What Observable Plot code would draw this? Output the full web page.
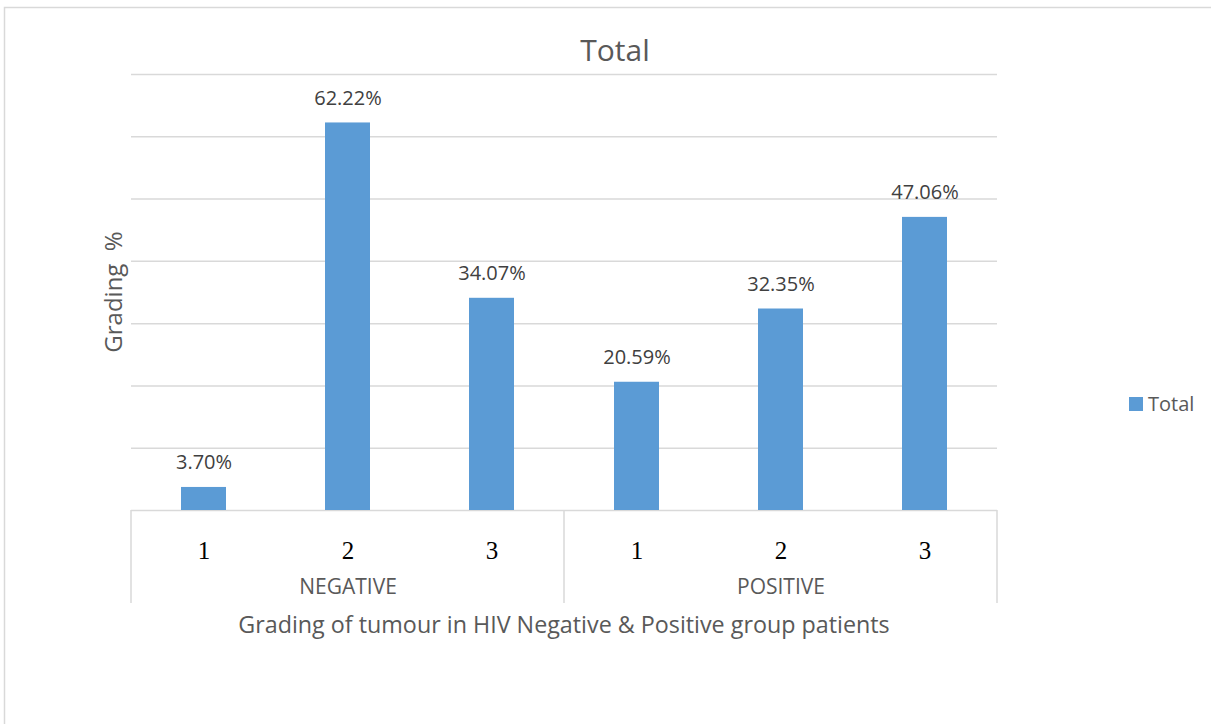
<!DOCTYPE html>
<html>
<head>
<meta charset="utf-8">
<script src="https://cdn.jsdelivr.net/npm/d3@7"></script>
<script src="https://cdn.jsdelivr.net/npm/@observablehq/plot@0.6"></script>
<style>
  html, body { margin: 0; padding: 0; background: #fff; }
  #chart svg { display: block; }
</style>
</head>
<body>
<div id="chart"></div>
<script>
const groups = ["NEGATIVE", "POSITIVE"];
const grades = ["1", "2", "3"];
const negativeValues = [3.70, 62.22, 34.07];
const positiveValues = [20.59, 32.35, 47.06];
const yTicks = [0, 10, 20, 30, 40, 50, 60, 70];
const chartTitle = "Total";
const xTitle = "Grading of tumour in HIV Negative & Positive group patients";
const yTitle = "Grading\u00A0\u00A0%";
const seriesName = "Total";

const barColor = "#5b9bd5";
const gridColor = "#d9d9d9";
const font = "'Open Sans', sans-serif";

const data = [];
groups.forEach((g, gi) => {
  const vals = gi === 0 ? negativeValues : positiveValues;
  grades.forEach((gr, i) => data.push({group: g, grade: gr, value: vals[i]}));
});

const W = 1211, H = 724;
const plot = Plot.plot({
  width: W,
  height: H,
  marginLeft: 131,
  marginRight: 214,
  marginTop: 74,
  marginBottom: 214,
  style: {fontFamily: font, background: "transparent", overflow: "visible"},
  fx: {domain: groups, padding: 0, axis: null, label: null},
  x: {domain: grades, type: "band", paddingInner: 0.69, paddingOuter: 0.345, axis: null, label: null},
  y: {domain: [0, 70], axis: null, label: null},
  marks: [
    Plot.gridY(yTicks.slice(1), {stroke: gridColor, strokeOpacity: 1, strokeWidth: 1.5}),
    Plot.ruleY([0], {stroke: gridColor, strokeWidth: 1.5}),
    Plot.barY(data, {fx: "group", x: "grade", y: "value", fill: barColor}),
    Plot.text(data, {
      fx: "group", x: "grade", y: "value",
      text: d => d.value.toFixed(2) + "%",
      lineAnchor: "bottom", dy: -18,
      fontSize: 20, fill: "#404040", fontFamily: font
    }),
    Plot.text(data, {
      fx: "group", x: "grade", frameAnchor: "bottom",
      text: "grade", dy: 40, lineAnchor: "middle",
      fontSize: 25, fill: "#000", fontFamily: "'Liberation Serif', 'Times New Roman', serif"
    }),
    Plot.text(groups, {
      fx: d => d, frameAnchor: "bottom", text: d => d,
      dy: 77, lineAnchor: "middle",
      fontSize: 21, fill: "#595959", fontFamily: font
    })
  ]
});

document.getElementById("chart").appendChild(plot);

// Decorations computed from the plot's own scales
const svg = d3.select(plot);
const fx = plot.scale("fx");
const y = plot.scale("y");
const y0 = y.apply(0);
const fxBand = fx.bandwidth;
const bounds = groups.map(g => fx.apply(g)).concat([fx.apply(groups[groups.length - 1]) + fxBand]);

svg.append("rect")
  .attr("x", 4.5).attr("y", 7.5).attr("width", W + 20).attr("height", H + 20)
  .attr("fill", "none").attr("stroke", gridColor).attr("stroke-width", 1.5);

svg.selectAll("line.sep").data(bounds).join("line")
  .attr("class", "sep")
  .attr("x1", d => d).attr("x2", d => d)
  .attr("y1", y0).attr("y2", y0 + 93)
  .attr("stroke", gridColor).attr("stroke-width", 1.5);

const plotLeft = bounds[0], plotRight = bounds[bounds.length - 1];

svg.append("text")
  .attr("x", 615).attr("y", 61)
  .attr("text-anchor", "middle")
  .attr("font-size", 30).attr("fill", "#595959").attr("font-family", font)
  .text(chartTitle);

svg.append("text")
  .attr("x", (plotLeft + plotRight) / 2).attr("y", 633)
  .attr("text-anchor", "middle")
  .attr("font-size", 23.3).attr("fill", "#595959").attr("font-family", font)
  .text(xTitle);

svg.append("text")
  .attr("transform", `translate(122, ${(y.apply(70) + y0) / 2}) rotate(-90)`)
  .attr("text-anchor", "middle")
  .attr("font-size", 24).attr("fill", "#595959").attr("font-family", font)
  .text(yTitle);

const legend = svg.append("g").attr("transform", "translate(1129, 397)");
legend.append("rect").attr("width", 14).attr("height", 14).attr("fill", barColor);
legend.append("text").attr("x", 19).attr("y", 14)
  .attr("text-anchor", "start")
  .attr("font-size", 20).attr("fill", "#595959").attr("font-family", font)
  .text(seriesName);
</script>
</body>
</html>
